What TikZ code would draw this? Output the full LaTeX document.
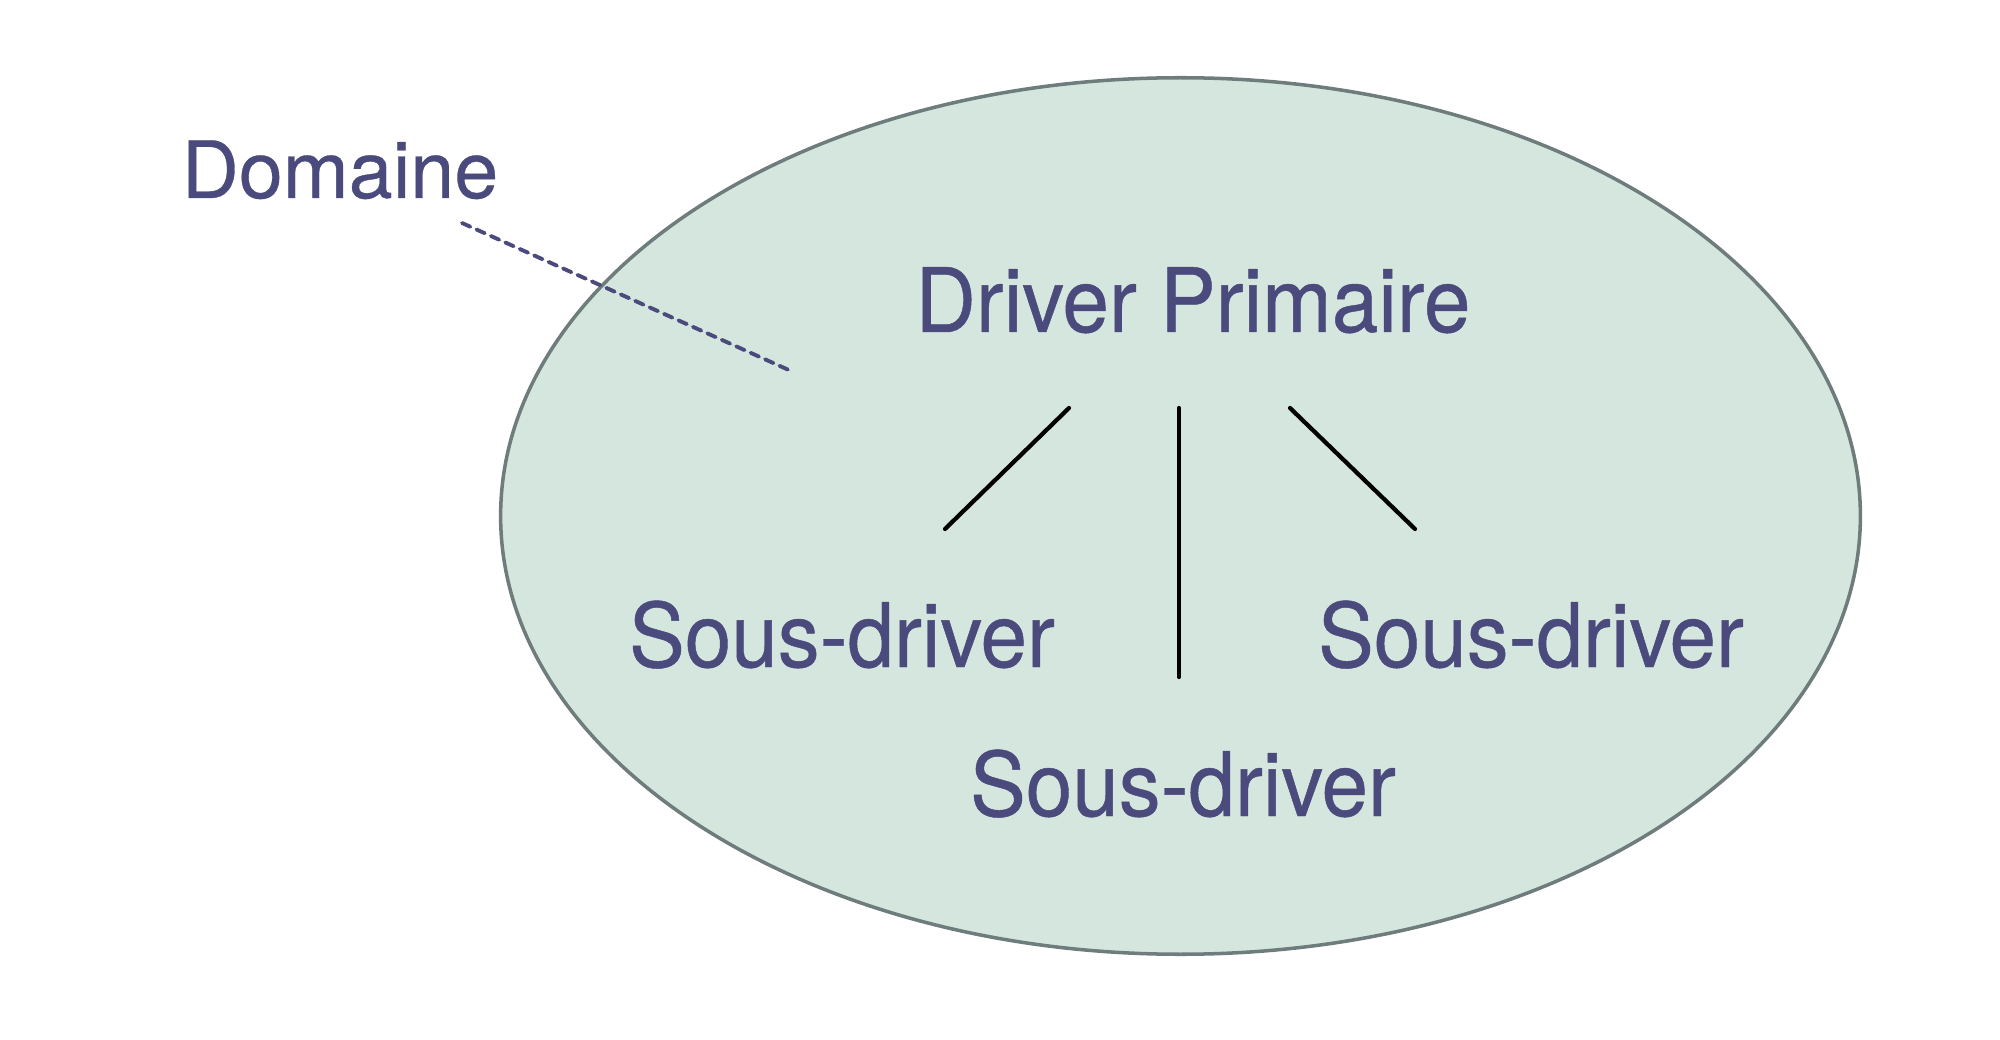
\documentclass[tikz,border=0pt]{standalone}
\usepackage{fontspec}
\setmainfont{TeX Gyre Heros}[FakeBold=0.4]
\newfontfamily\narrowfont{TeX Gyre Heros}[FakeStretch=0.94,FakeBold=0.5]
\usetikzlibrary{shapes.geometric}
\definecolor{domainefill}{HTML}{D5E6DE}
\definecolor{domaineline}{HTML}{6E7C7C}
\definecolor{labelink}{HTML}{4A4A7C}

\begin{document}
\begin{tikzpicture}[x=0.01cm,y=-0.01cm,
    zone/.style={ellipse,draw=domaineline,fill=domainefill,line width=1pt,
      minimum width=13.59cm,minimum height=8.76cm,inner sep=0pt},
    lbl/.style={text=labelink,anchor=base,inner sep=0pt,
      font=\narrowfont\fontsize{25.3}{30}\selectfont},
    link/.style={draw=black,line width=1.2pt,line cap=round},
    pointer/.style={draw=labelink,line width=1.1pt,line cap=round,
      dash pattern=on 2.6pt off 1.9pt}]
                \useasboundingbox (0,0) rectangle (2000,1040);
                \node[zone] (zone) at (1180.5,516) {};
                \node[lbl,font=\fontsize{22.5}{27}\selectfont] (dom) at (340,198) {Domaine};
                \node[lbl] (prim) at (1193,332) {Driver Primaire};
                \node[lbl] (sl) at (842,667) {Sous-driver};
                \node[lbl] (sr) at (1531,667) {Sous-driver};
                \node[lbl] (sb) at (1183,816) {Sous-driver};
                \draw[link] ([shift={(-124,76)}]prim.base) -- ([shift={(103,-138)}]sl.base);
                \draw[link] ([shift={(-14,76)}]prim.base) -- ([shift={(-4,-139)}]sb.base);
                \draw[link] ([shift={(97,76)}]prim.base) -- ([shift={(-116,-138)}]sr.base);
                \draw[pointer] ([shift={(122,25)}]dom.base) -- ([shift={(-389.5,-145)}]zone.center);
            \end{tikzpicture}
\end{document}
